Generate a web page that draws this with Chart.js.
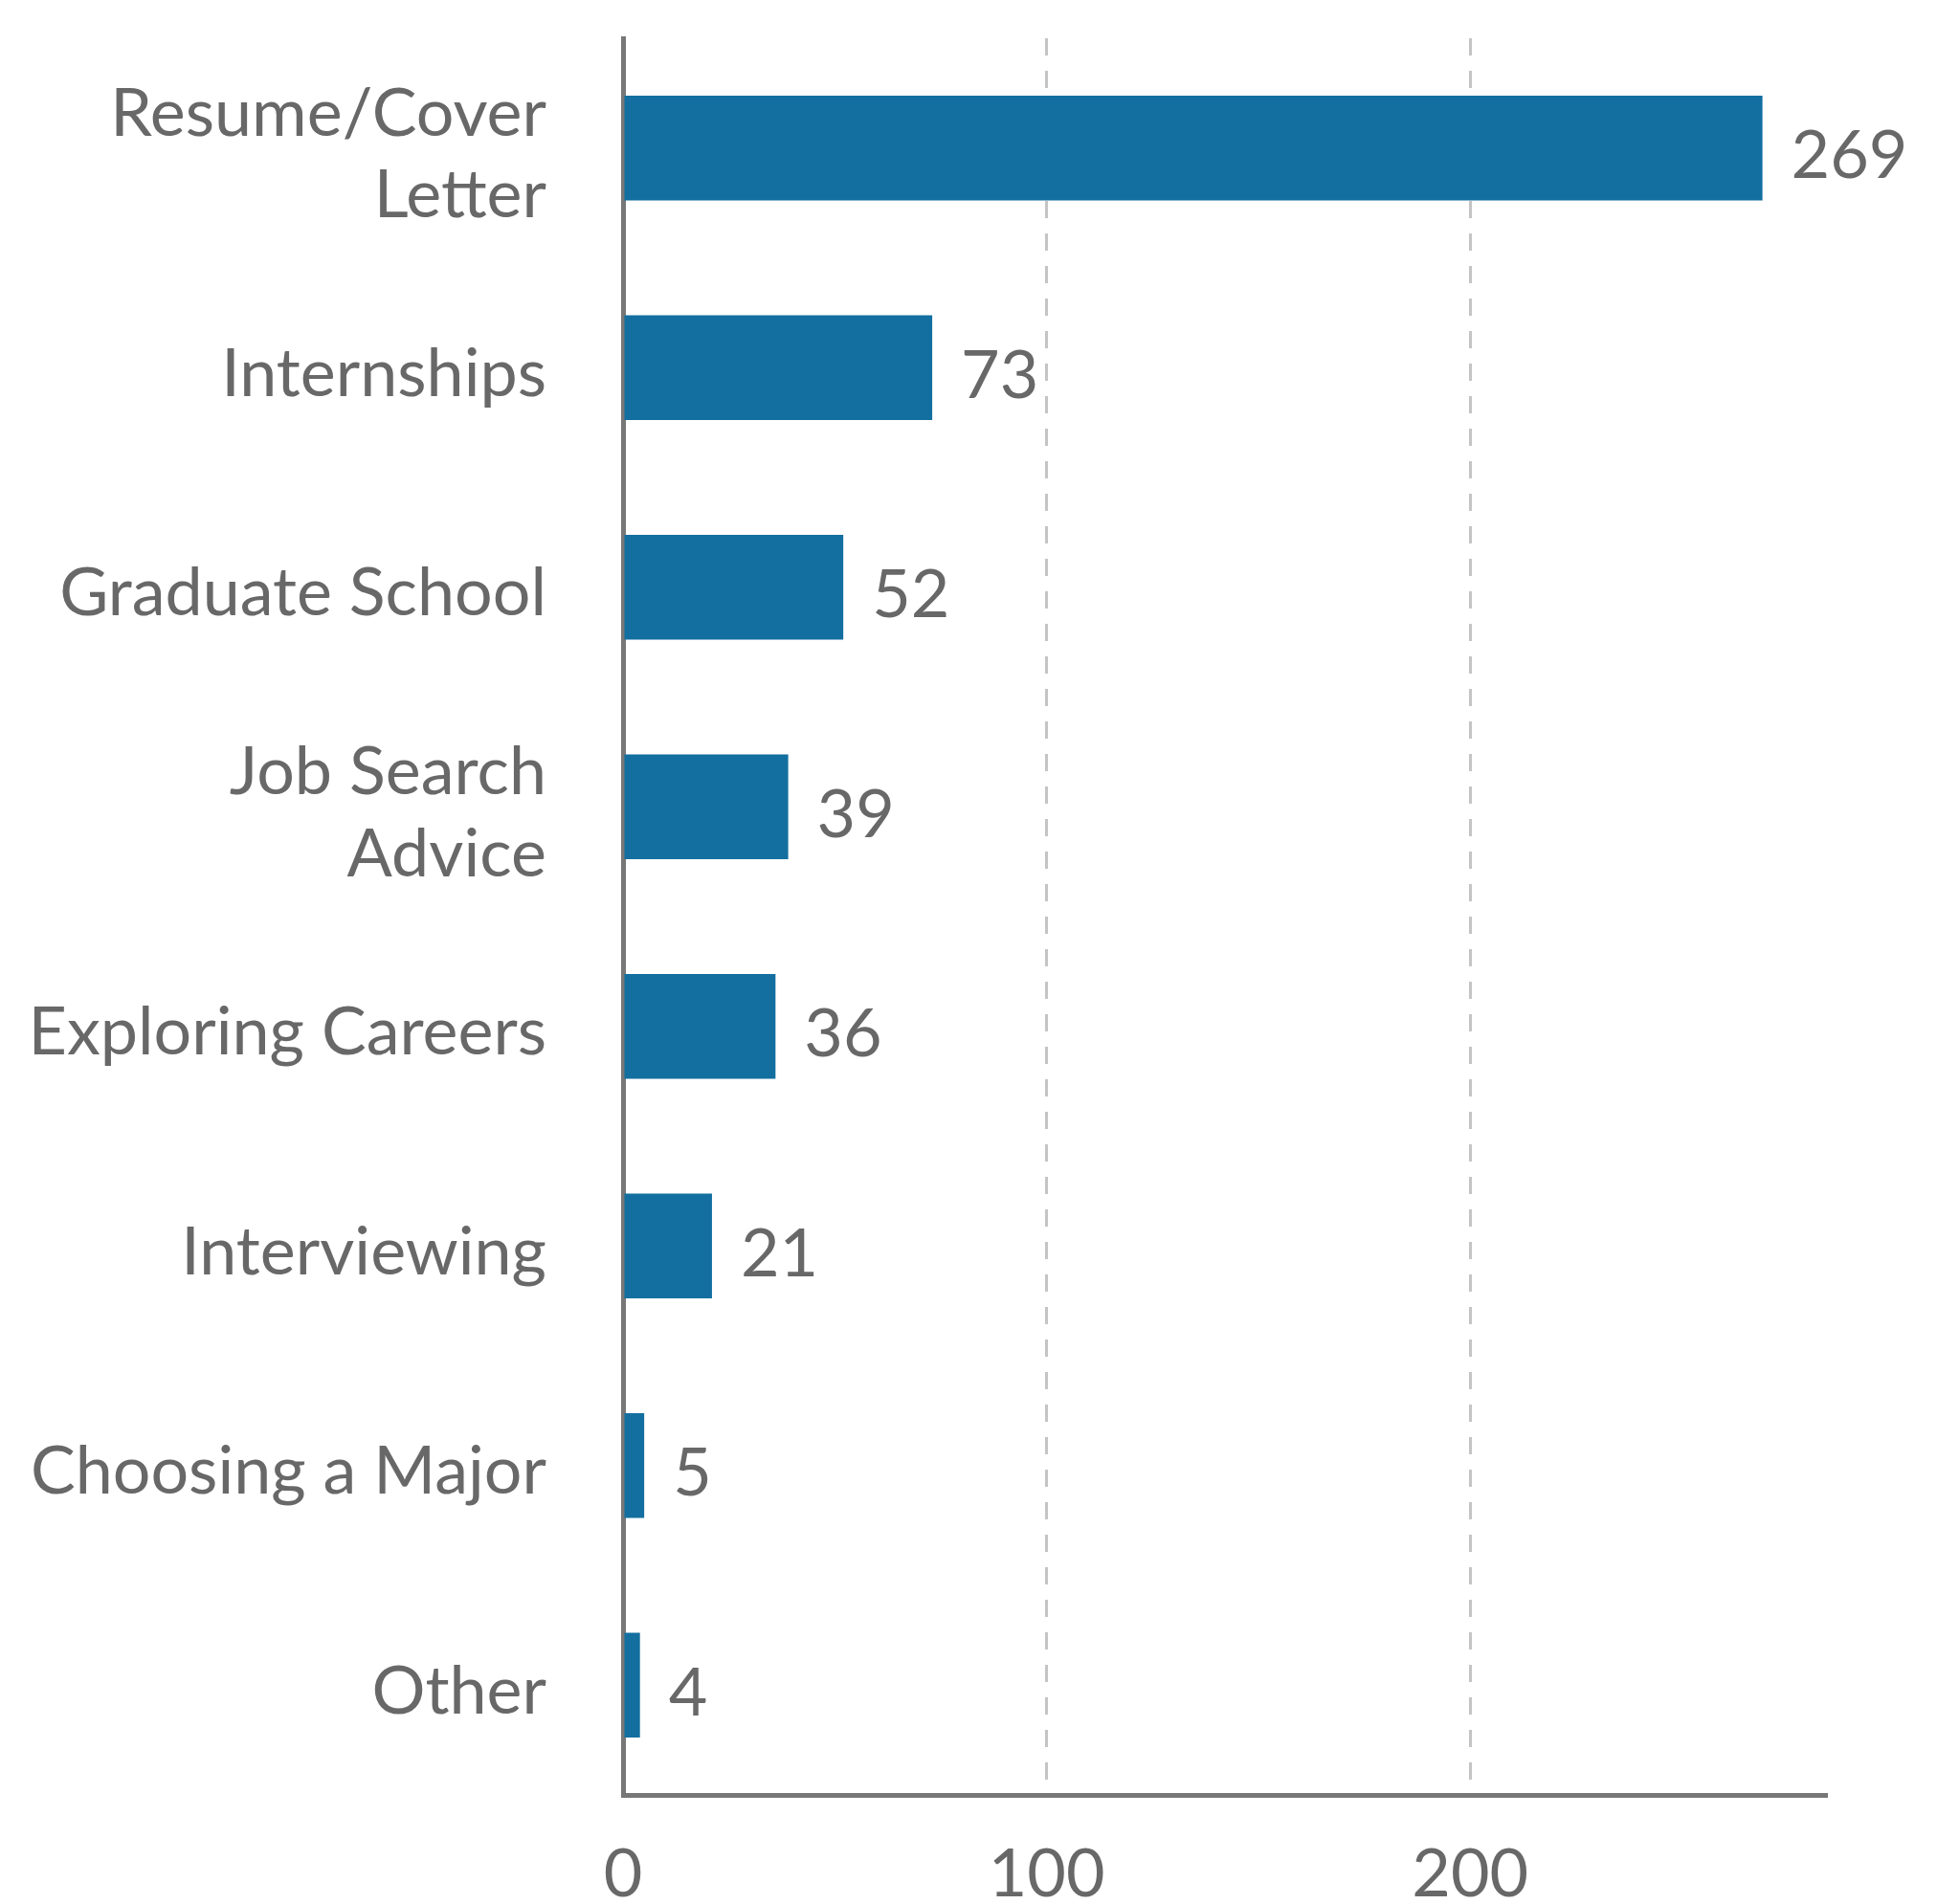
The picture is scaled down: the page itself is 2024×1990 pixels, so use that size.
<!DOCTYPE html>
<html>
<head>
<meta charset="utf-8">
<script src="https://cdn.jsdelivr.net/npm/chart.js@4/dist/chart.umd.min.js"></script>
<style>
  html, body { margin: 0; padding: 0; background: #fff; }
  #wrap { width: 2024px; height: 1990px; }
</style>
</head>
<body>
<div id="wrap"><canvas id="topicsChart"></canvas></div>
<script>
/* ================= Data ================= */
const topics = [
  ["Resume/Cover", "Letter"],
  "Internships",
  "Graduate School",
  ["Job Search", "Advice"],
  "Exploring Careers",
  "Interviewing",
  "Choosing a Major",
  "Other",
];
const counts = [269, 73, 52, 39, 36, 21, 5, 4];
const xTicks = [0, 100, 200];

const textGrey = "#686868";
const axisGrey = "#777777";

// draws the number next to each bar
const valueLabels = {
  id: "valueLabels",
  afterDatasetsDraw(chart) {
    const { ctx } = chart;
    const meta = chart.getDatasetMeta(0);
    ctx.save();
    ctx.font = "70px Lato";
    ctx.fillStyle = textGrey;
    ctx.textAlign = "left";
    ctx.textBaseline = "middle";
    meta.data.forEach((bar, i) => {
      ctx.fillText(String(counts[i]), bar.x + 30, bar.y + 9);
    });
    ctx.restore();
  },
};

// keep the plot area where it is in the picture, no auto padding for labels
function noPad(scale) {
  scale.paddingTop = 0;
  scale.paddingBottom = 0;
  scale.paddingLeft = 0;
  scale.paddingRight = 0;
}

const ctx = document.getElementById("topicsChart").getContext("2d");
window.topicsChart = new Chart(ctx, {
  type: "bar",
  data: {
    labels: topics,
    datasets: [
      {
        label: "Topics",
        data: counts,
        backgroundColor: "#136f9f",
        barPercentage: 0.477,
        categoryPercentage: 1,
      },
    ],
  },
  plugins: [valueLabels],
  options: {
    indexAxis: "y",
    responsive: true,
    maintainAspectRatio: false,
    devicePixelRatio: 1,
    animation: false,
    layout: { padding: { top: 40, right: 116, left: 0, bottom: 0 } },
    plugins: { legend: { display: false }, tooltip: { enabled: false } },
    scales: {
      x: {
        min: 0,
        max: 284,
        afterBuildTicks: (scale) => {
          scale.ticks = xTicks.map((v) => ({ value: v }));
        },
        afterFit: (scale) => {
          scale.height = 114;
          noPad(scale);
        },
        ticks: {
          includeBounds: false,
          color: textGrey,
          font: { family: "Lato", size: 70 },
          padding: 41,
        },
        grid: {
          drawTicks: false,
          lineWidth: 3,
          color: (c) => (c.tick && c.tick.value === 0 ? "rgba(0,0,0,0)" : "#c4c4c4"),
        },
        border: { display: true, color: axisGrey, width: 5, dash: [18, 16] },
      },
      y: {
        afterFit: (scale) => {
          scale.width = 651;
          noPad(scale);
        },
        ticks: {
          color: textGrey,
          font: { family: "Lato", size: 70, lineHeight: 1.22 },
          padding: 80,
          labelOffset: 7,
        },
        grid: { display: false, drawTicks: false },
        border: { display: true, color: axisGrey, width: 5 },
      },
    },
  },
});
</script>
</body>
</html>
